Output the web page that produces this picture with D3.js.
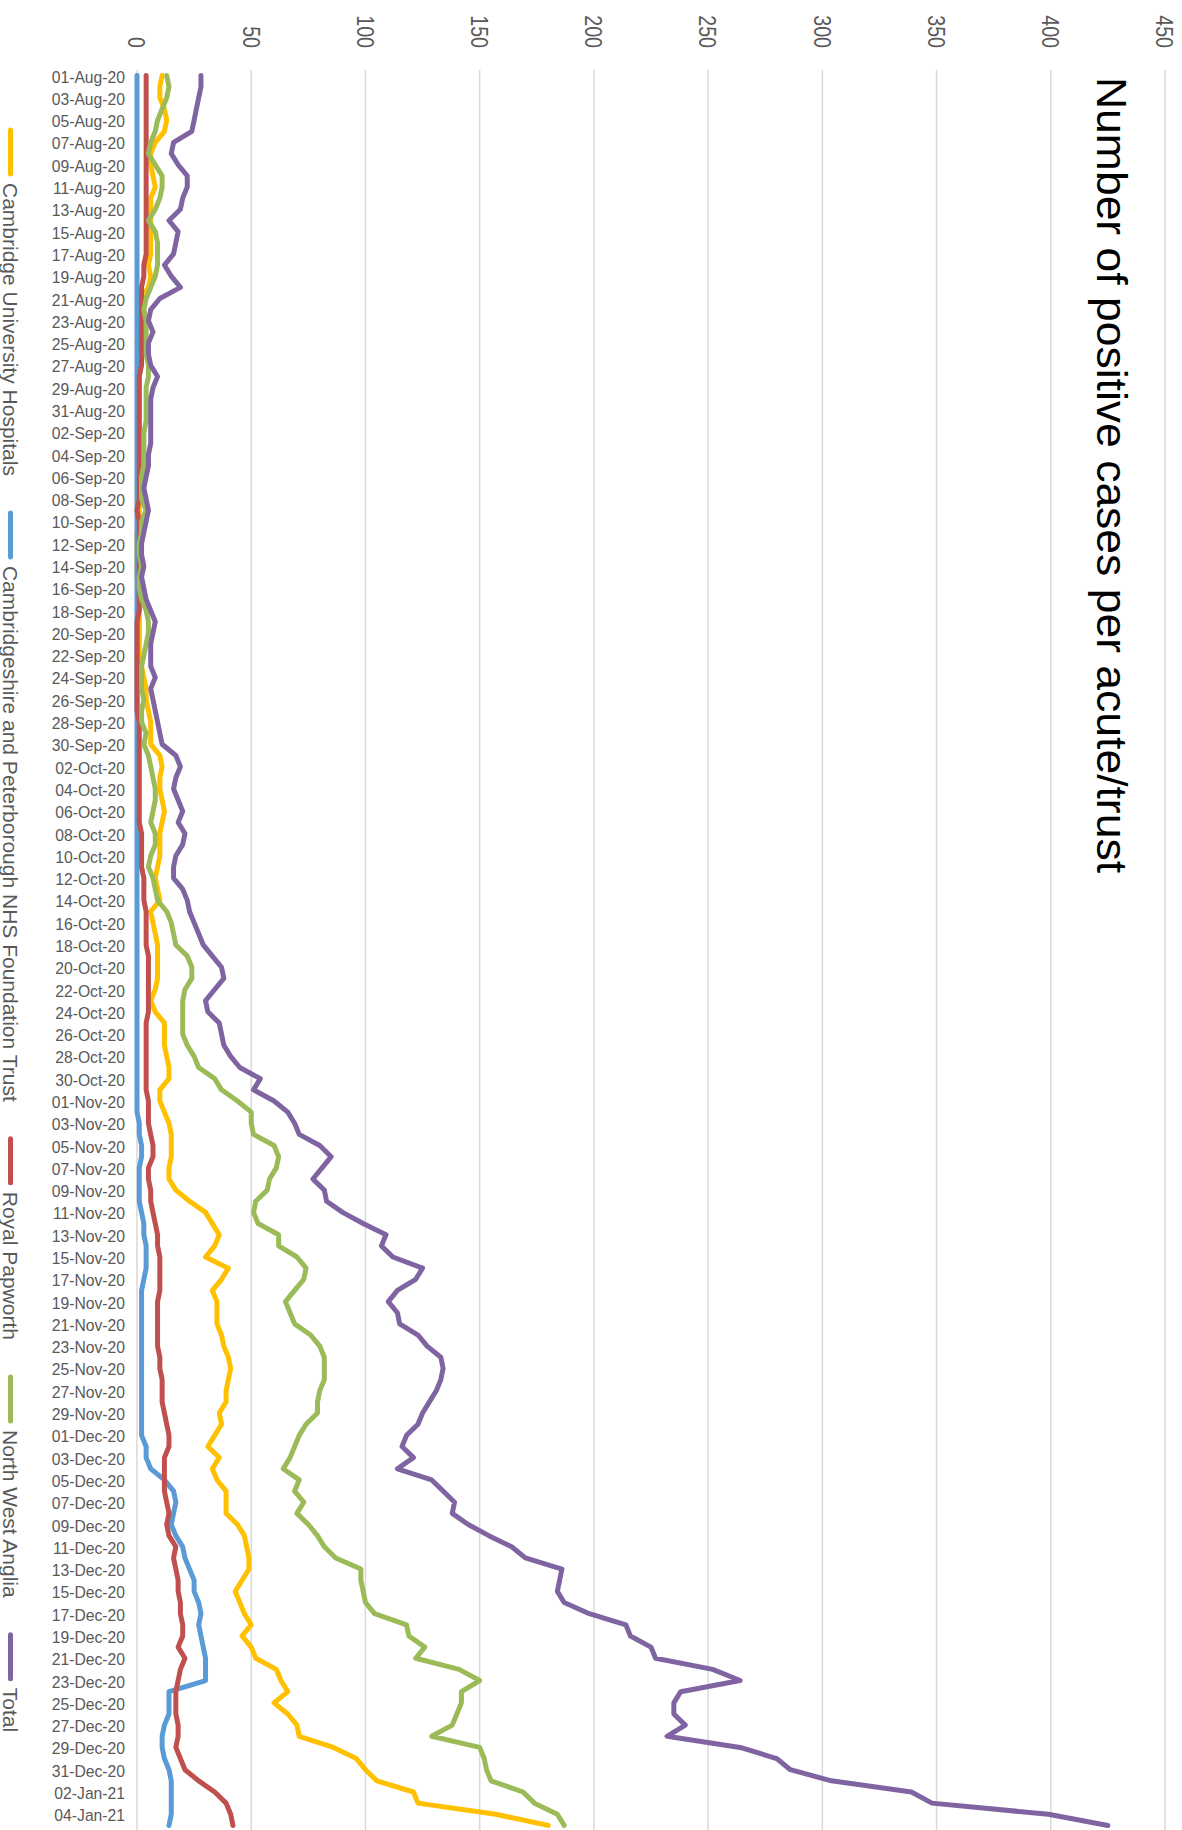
<!DOCTYPE html>
<html>
<head>
<meta charset="utf-8">
<script src="https://cdn.jsdelivr.net/npm/d3@7"></script>
<style>
  html, body { margin: 0; padding: 0; background: #fff; }
  svg { display: block; }
  text { font-family: "Liberation Sans", Arial, sans-serif; }
</style>
</head>
<body>
<script>
// ---------- DATA ----------
const startDate = new Date(2020, 7, 1);   // 01-Aug-20
const endDate = new Date(2021, 0, 6);     // exclusive -> last 05-Jan-21
const dates = d3.timeDays(startDate, endDate);

const valueTicks = [0, 50, 100, 150, 200, 250, 300, 350, 400, 450];

const seriesNames = [
  "Cambridge University Hospitals",
  "Cambridgeshire and Peterborough NHS Foundation Trust",
  "Royal Papworth",
  "North West Anglia",
  "Total"
];
const seriesColors = ["#FFC000", "#5B9BD5", "#C0504D", "#9BBB59", "#8064A2"];

const cuh = [
  11,10,10,12,13,12,8,6,6,7,8,6,6,6,6,6,6,5,6,5,2,1,1,1,0,
  1,1,1,1,1,1,1,1,2,1,1,1,0,1,1,1,0,0,0,0,0,1,1,1,1,1,
  1,1,2,3,4,4,5,6,6,6,10,11,10,10,11,12,11,10,10,10,9,8,9,10,6,7,8,
  9,9,9,9,8,6,8,12,12,12,13,14,14,10,10,12,14,15,15,15,14,
  14,17,23,30,33,36,34,30,40,37,33,35,35,35,37,38,40,41,40,39,39,36,
  37,34,31,36,33,35,39,39,39,44,47,48,49,49,46,43,45,
  47,50,46,50,52,61,63,66,60,66,70,71,86,96,100,105,121,123,157,180
];

const cpft = [
  0,0,0,0,0,0,0,0,0,0, 0,0,0,0,0,0,0,0,0,0, 0,0,0,0,0,0,0,0,0,0,
  0,0,0,0,0,0,0,0,0,0, 0,0,0,0,0,0,0,0,0,0, 0,0,0,0,0,0,0,0,0,0,
  0,0,0,0,0,0,0,0,0,0, 0,0,0,0,0,0,0,0,0,0, 0,0,0,0,0,0,0,0,0,0,
  0,0,0,
  0,1,1,2,2,1,
  1,1,1,2,3,3,4,4,4,3,2,2,2,2,2,2,2,2,2,2,2,2,
  2,2,4,4,6,12,16,17,16,15,17,20,21,23,25,25,27,
  28,27,28,29,30,30,30,14,14,14,12,11,11,12,14,15,15,15,15,14
];

const papworth = [
  4,4,4,4,4,4,4,4,4,4,4,4,4,4,4,4,4,
  3,3,2,2,2,2,2,2,
  2,2,1,1,1,1,1,1,1,1,1,1,1,1,0,1,1,1,1,1,1,1,1,1,0,0,
  0,0,0,0,0,0,0,1,1,1,1,1,1,1,1,1,1,2,2,2,2,3,3,3,4,4,4,
  4,5,5,5,5,5,5,4,4,4,4,4,4,4,5,5,5,6,7,7,5,
  5,6,6,7,8,9,9,10,10,10,10,9,9,9,9,9,10,10,11,11,11,12,
  13,14,14,12,12,12,12,13,14,13,14,17,16,17,18,18,19,
  19,20,20,18,21,19,18,17,17,17,18,18,17,19,21,27,34,39,41,42
];

const nwa = [
  13,14,13,11,9,8,6,5,8,11,11,10,8,5,8,9,9,9,8,6,4,3,4,4,4,
  4,5,5,4,4,4,4,3,3,3,3,2,2,2,4,2,2,1,1,2,1,1,2,4,5,5,
  4,3,2,2,2,3,2,2,4,3,5,6,7,8,8,7,6,8,8,6,5,7,8,9,13,15,16,
  17,22,24,24,21,20,20,20,20,22,25,27,34,37,44,50,50,51,60,62,61,
  58,57,52,51,53,62,62,70,74,73,69,65,67,69,76,80,82,82,82,80,79,79,
  74,71,69,67,64,71,69,73,70,75,79,82,87,98,98,99,100,
  104,118,119,126,122,141,150,142,142,140,138,129,150,152,153,155,169,174,184,187
];

const total = [
  28,28,27,26,25,24,16,15,18,22,22,20,19,14,18,17,16,12,15,19,10,6,5,7,5,
  5,6,9,7,6,6,6,6,6,5,5,4,3,4,5,4,3,2,2,3,2,3,4,6,8,7,
  6,6,6,8,6,7,8,9,10,11,17,19,17,16,18,20,18,21,20,17,16,16,20,22,23,25,27,
  29,33,37,38,34,30,31,36,37,38,41,45,54,51,60,66,69,71,80,85,81,
  77,82,83,90,99,109,107,112,125,122,114,110,114,115,123,127,133,134,133,131,128,125,
  123,118,116,121,114,129,134,139,138,145,154,164,170,186,185,184,187,
  198,214,216,225,227,252,264,238,235,235,240,232,264,280,286,304,339,348,399,425
];

const titleText = "Number of positive cases per acute/trust";

// ---------- CHART ----------
const W = 1182, H = 1830;
const svg = d3.select("body").append("svg").attr("width", W).attr("height", H);
svg.append("rect").attr("width", W).attr("height", H).attr("fill", "#fff");

const plotTop = 71, plotBottom = 1832;
const x = d3.scaleLinear().domain([0, 450]).range([137, 1165]);
const y = d3.scaleBand().domain(d3.range(dates.length)).range([plotTop, plotBottom]).padding(0);
const cy = i => y(i) + y.bandwidth() / 2 - 1;

// gridlines
svg.append("g").selectAll("line").data(valueTicks).join("line")
  .attr("x1", d => x(d)).attr("x2", d => x(d))
  .attr("y1", plotTop - 1).attr("y2", H)
  .attr("stroke", "#d9d9d9").attr("stroke-width", 1.5);

// value tick labels (rotated)
svg.append("g").selectAll("text").data(valueTicks).join("text")
  .attr("transform", d => `translate(${x(d)},48) rotate(90)`)
  .attr("text-anchor", "end")
  .attr("dy", "0.36em")
  .attr("font-size", 24)
  .attr("fill", "#595959")
  .attr("textLength", d => String(d).length * 10.9)
  .attr("lengthAdjust", "spacingAndGlyphs")
  .text(d => d);

// date axis
const fmt = d3.timeFormat("%d-%b-%y");
const dateAxis = d3.axisLeft(y)
  .tickValues(d3.range(0, dates.length, 2))
  .tickFormat(i => fmt(dates[i]))
  .tickSize(0)
  .tickPadding(12);
const gAx = svg.append("g").attr("transform", `translate(${x(0)},1)`).call(dateAxis);
gAx.select(".domain").remove();
gAx.selectAll("text").attr("font-size", 15.7).attr("fill", "#595959")
  .attr("font-family", "'Liberation Sans', Arial, sans-serif");

// lines
const series = [cuh, cpft, papworth, nwa, total];
const line = d3.line().x(d => x(d)).y((d, i) => cy(i));
svg.append("g").selectAll("path").data(series).join("path")
  .attr("d", d => line(d))
  .attr("fill", "none")
  .attr("stroke", (d, i) => seriesColors[i])
  .attr("stroke-width", 5)
  .attr("stroke-linejoin", "round")
  .attr("stroke-linecap", "round");

// title
svg.append("text")
  .attr("transform", "translate(1097,77) rotate(90)")
  .attr("font-size", 42)
  .attr("fill", "#000")
  .attr("textLength", 796)
  .attr("lengthAdjust", "spacingAndGlyphs")
  .text(titleText);

// legend (rotated, along left edge)
const leg = svg.append("g");
let pos = 128;
seriesNames.forEach((name, i) => {
  leg.append("line")
    .attr("x1", 10.5).attr("x2", 10.5)
    .attr("y1", pos + 2).attr("y2", pos + 46)
    .attr("stroke", seriesColors[i]).attr("stroke-width", 5)
    .attr("stroke-linecap", "round");
  pos += 55;
  const t = leg.append("text")
    .attr("transform", `translate(3,${pos}) rotate(90)`)
    .attr("font-size", 21)
    .attr("fill", "#595959")
    .text(name);
  pos += t.node().getComputedTextLength() + 35;
});
</script>
</body>
</html>
